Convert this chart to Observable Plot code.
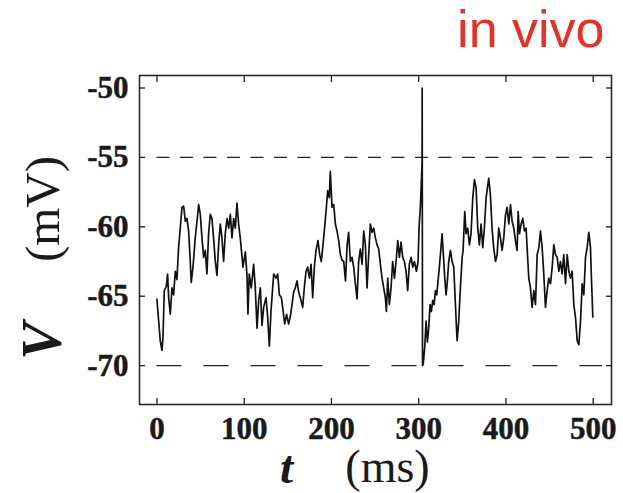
<!DOCTYPE html>
<html>
<head>
<meta charset="utf-8">
<script src="https://cdn.jsdelivr.net/npm/d3@7"></script>
<script src="https://cdn.jsdelivr.net/npm/@observablehq/plot@0.6"></script>
<style>
  html, body { margin: 0; padding: 0; background: #fff; }
</style>
</head>
<body>
<div id="chart"></div>
<script>
const titleText = "in vivo";
const xTicks = [0, 100, 200, 300, 400, 500];
const yTicks = [-70, -65, -60, -55, -50];
const thresholds = [-55, -70];

const tMs = [0,0.8,3.8,5.7,6.9,8.4,10.7,12.2,13.4,15.3,17.2,19.1,21,22.9,24.8,26.7,28.7,30.6,32.5,34.4,36.3,38.2,39.3,41.3,43.9,45.9,47.8,49.7,51.6,53.5,55.4,57.3,59.2,61.1,63,64.9,66.9,68.8,70.7,72.6,74.5,76.4,78.3,80.3,82.2,84.1,86,87.9,89.8,91.7,93.6,95.5,98.6,101.3,103.2,104.3,105.8,108.1,110.8,112.7,114.7,116.6,118.5,120.4,122.3,125,126.9,128.8,130.7,133.8,136.5,138.4,140.3,142.6,144.1,146.4,148.6,150.9,152.8,154.8,156.7,158.6,160.6,162.4,165.1,167,168.9,170.9,172.8,174.7,176.6,178.5,180.4,182.3,184.6,186.5,188.4,191.1,193.8,195.7,197.6,198.7,200.7,202.6,204.5,206.4,208.3,210.2,212.2,214.1,216.1,218,219.7,221.7,223.6,225.5,227.4,229.4,231.2,233.1,235.1,237,238.9,240.8,242.7,244.6,246.5,248.4,250.4,252.3,254.2,256.1,258,259.9,261.8,263,264.5,266.4,268.3,270.2,272.2,274.1,276,277.9,279.8,281.7,283.6,285.5,287.4,289.3,291.3,293.2,295.1,297.4,299.3,300.4,301.9,303.1,303.9,304,304.4,305.2,306.9,308.5,310,311.5,313.1,314.6,316.1,317.7,319.2,320.7,322.2,323.7,325.3,326.8,328.3,329.9,331.4,332.9,334.4,336.4,338.3,340.2,342.1,344,345.9,347.8,349.8,350.9,352.8,354.3,356.2,358.1,360,362,363.9,365.8,367.7,369.6,371.5,373.4,375.3,377.3,380.3,382.2,384.1,386,388,389.9,391.8,393.7,395.6,397.5,399.4,401.3,403.3,405.2,407.1,409,410.9,412.8,414,415.5,417.4,419.3,421.2,423.1,424.7,426.2,428.1,430,432,433.9,435.8,437.7,439.6,441.5,443.4,445.3,447.2,449.1,451.1,453,454.9,456.8,458.7,460.6,462.5,464.4,466.3,468.3,470.2,472.1,474,475.9,477.8,479.7,481.7,483.6,485.5,487.4,489.3,491.2,493.1,495,496.9,498,499.6];

const vMv = [-65.2,-65.9,-68.2,-68.9,-68.0,-64.6,-64.3,-63.4,-65.1,-66.3,-64.4,-64.9,-63.2,-63.8,-61.5,-60.1,-58.6,-58.5,-59.6,-59.4,-60.3,-62.5,-64.0,-62.9,-60.8,-59.6,-58.4,-59.1,-60.8,-62.2,-61.7,-63.4,-60.5,-59.1,-59.4,-60.8,-62.5,-63.5,-61.3,-59.8,-60.8,-62.5,-60.5,-59.4,-60.1,-59.1,-60.8,-59.4,-60.1,-58.3,-59.8,-60.8,-62.9,-61.8,-63.5,-66.3,-63.4,-64.4,-62.7,-64.4,-67.3,-65.3,-64.4,-67.1,-65.8,-65.1,-66.5,-68.6,-66.1,-63.4,-63.7,-63.4,-64.9,-65.1,-65.8,-67.0,-66.3,-67.0,-66.5,-65.6,-64.7,-64.4,-63.9,-64.7,-65.3,-65.8,-64.4,-63.2,-62.9,-63.7,-62.7,-65.1,-62.9,-61.7,-61.0,-62.0,-62.5,-60.8,-58.9,-57.4,-57.9,-56.0,-58.6,-58.4,-59.8,-60.3,-61.0,-62.0,-62.4,-62.5,-63.9,-61.3,-60.4,-62.5,-62.2,-62.9,-64.1,-65.2,-62.5,-61.6,-62.7,-60.3,-61.3,-64.4,-62.0,-59.8,-60.4,-60.1,-60.8,-61.3,-61.6,-62.7,-63.7,-64.4,-65.1,-66.1,-63.7,-65.6,-64.4,-62.5,-63.7,-62.5,-61.0,-62.2,-61.1,-62.2,-62.5,-63.2,-64.6,-62.7,-62.2,-62.9,-62.5,-63.2,-62.5,-60.1,-58.6,-56.7,-55.3,-50.0,-70.0,-69.9,-68.7,-66.8,-68.3,-67.3,-65.6,-66.1,-65.3,-65.6,-64.6,-64.9,-63.9,-62.9,-61.7,-60.5,-62.0,-63.7,-64.9,-63.9,-62.5,-61.7,-62.5,-62.9,-65.6,-68.2,-66.8,-64.4,-62.2,-61.7,-58.9,-60.5,-60.1,-61.3,-60.5,-57.9,-56.6,-57.2,-60.1,-61.3,-59.8,-61.5,-60.1,-57.9,-56.5,-57.7,-60.1,-61.5,-62.5,-62.0,-60.1,-60.8,-61.7,-60.8,-59.2,-58.6,-59.8,-58.4,-59.6,-60.1,-61.0,-61.7,-58.9,-60.5,-59.8,-59.4,-60.3,-60.1,-62.0,-63.7,-64.4,-65.8,-64.6,-65.6,-62.0,-61.5,-60.3,-61.5,-63.4,-65.8,-64.6,-63.7,-64.1,-62.9,-61.3,-62.0,-62.2,-63.2,-62.5,-63.4,-62.0,-64.1,-62.0,-63.2,-63.7,-63.2,-65.6,-66.5,-68.2,-68.5,-66.8,-64.1,-64.9,-62.2,-61.5,-60.4,-61.5,-63.7,-66.5];

const trace = tMs.map((t, i) => ({t, v: vMv[i]}));

const serif = "'Liberation Serif', 'Times New Roman', serif";

const chart = Plot.plot({
  width: 623,
  height: 493,
  marginLeft: 139,
  marginRight: 12,
  marginTop: 75,
  marginBottom: 89,
  style: {fontFamily: serif, fontSize: "31px", fontWeight: "bold", color: "#1a1a1a", background: "#fff"},
  x: {domain: [-20, 521]},
  y: {domain: [-72.8, -49.1]},
  marks: [
    Plot.ruleY([thresholds[0]], {x1: 0, x2: 511, stroke: "#222", strokeWidth: 1.4, strokeDasharray: "13,10.5"}),
    Plot.ruleY([thresholds[1]], {x1: 0, x2: 511, stroke: "#222", strokeWidth: 1.4, strokeDasharray: "25,22"}),
    Plot.line(trace, {x: "t", y: "v", stroke: "#111", strokeWidth: 1.7, strokeLinejoin: "round"}),
    Plot.frame({stroke: "#2a2a2a", strokeWidth: 1.6}),
    Plot.axisX(xTicks, {tickSize: -6, tickPadding: 18, tickFormat: d => String(d), label: null, strokeWidth: 1.3, fontSize: 31, fontWeight: "bold", textStroke: "#1a1a1a", textStrokeWidth: 0.5}),
    Plot.axisX(xTicks, {anchor: "top", tickSize: -6, tickFormat: () => "", label: null, strokeWidth: 1.3}),
    Plot.axisY(yTicks, {tickSize: -6, tickPadding: 17, tickFormat: d => String(d), label: null, strokeWidth: 1.3, fontSize: 31, fontWeight: "bold", textStroke: "#1a1a1a", textStrokeWidth: 0.5}),
    Plot.axisY(yTicks, {anchor: "right", tickSize: -6, tickFormat: () => "", label: null, strokeWidth: 1.3}),
    Plot.text(["t"], {frameAnchor: "bottom", dx: -89, dy: 63, lineAnchor: "middle", textAnchor: "middle", fontSize: 47, fontStyle: "italic", fontWeight: "bold", fill: "#1a1a1a"}),
    Plot.text(["(ms)"], {frameAnchor: "bottom", dx: 12, dy: 63, lineAnchor: "middle", textAnchor: "middle", fontSize: 46, fontWeight: "normal", fill: "#1a1a1a"}),
    Plot.text(["V"], {frameAnchor: "left", dx: -96, dy: 101, rotate: -90, lineAnchor: "middle", textAnchor: "middle", fontSize: 56, fontStyle: "italic", fontWeight: "bold", fill: "#1a1a1a"}),
    Plot.text(["(mV)"], {frameAnchor: "left", dx: -96, dy: -31, rotate: -90, lineAnchor: "middle", textAnchor: "middle", fontSize: 49, fontWeight: "normal", fill: "#1a1a1a"}),
    Plot.text([titleText], {frameAnchor: "top-right", dx: -7, dy: -45, lineAnchor: "middle", textAnchor: "end", fontSize: 52, fontWeight: "normal", fontFamily: "'Liberation Sans', Arial, sans-serif", fill: "#e2332b"})
  ]
});

document.getElementById("chart").appendChild(chart);
</script>
</body>
</html>
